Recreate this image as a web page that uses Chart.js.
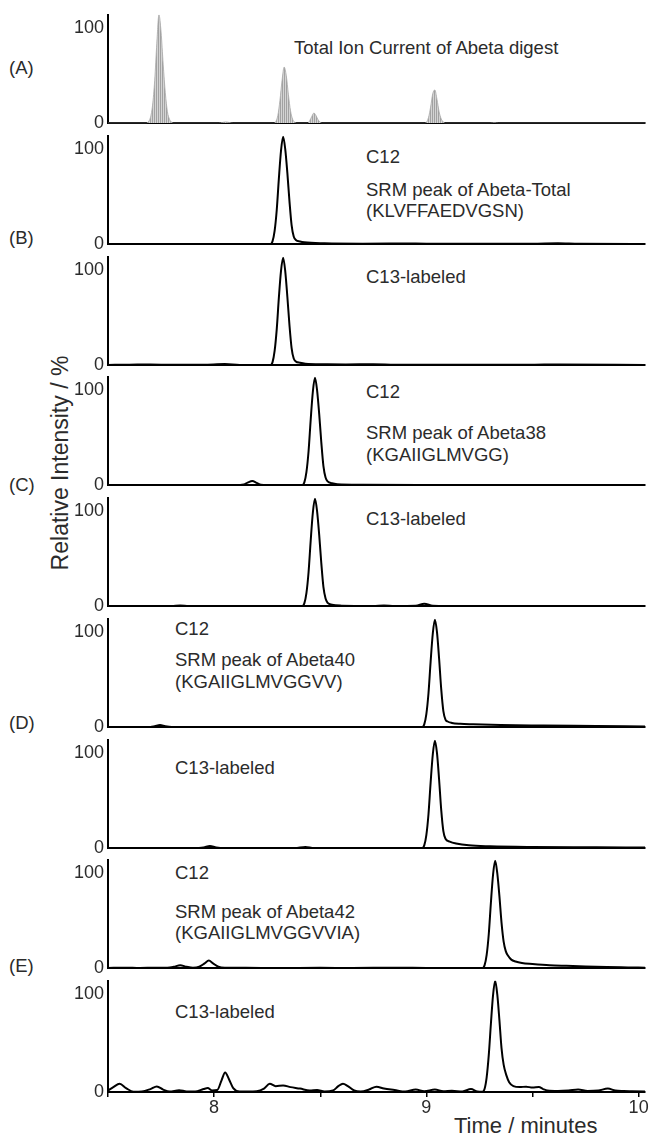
<!DOCTYPE html>
<html>
<head>
<meta charset="utf-8">
<script src="https://cdn.jsdelivr.net/npm/chart.js@4.4.1/dist/chart.umd.min.js"></script>
<style>
html,body{margin:0;padding:0;background:#fff;}
#wrap{position:relative;width:650px;height:1134px;overflow:hidden;font-family:"Liberation Sans",Arial,sans-serif;color:#2b2b2b;}
#wrap canvas{position:absolute;left:0;}
.t{position:absolute;white-space:nowrap;font-size:18.5px;line-height:1.15;transform:translateY(-50%);}
#ylab{position:absolute;white-space:nowrap;font-size:23px;line-height:1.15;left:60px;top:463px;transform:translate(-50%,-50%) rotate(-90deg);}
#xlab{position:absolute;white-space:nowrap;font-size:22px;line-height:1.15;left:454px;top:1126px;transform:translateY(-50%);}
</style>
</head>
<body>
<div id="wrap">
  <div id="ylab">Relative Intensity / %</div>
  <div id="xlab">Time / minutes</div>
</div>
<script>
// ---------------- DATA (time in minutes, relative intensity in %) ----------------
const X_TICKS = [7.5, 8, 8.5, 9, 9.5, 10];
const X_TICK_LABELS = ["", "8", "", "9", "", "10"];
const Y_TICKS = [0, 100];

const ticAbetaDigest = [[7.50,0],[7.68,0],[7.69,1.5],[7.70,6],[7.71,19],[7.72,45],[7.73,84],[7.74,114],[7.75,96],[7.76,62],[7.77,32],[7.78,12],[7.79,4],[7.80,1],[7.81,0],[8.02,0],[8.04,0.8],[8.055,1.3],[8.07,0.8],[8.09,0],[8.28,0],[8.29,1.5],[8.30,8],[8.31,24],[8.32,45],[8.33,59],[8.34,50],[8.35,30],[8.36,13],[8.37,4],[8.38,1],[8.39,0],[8.44,0],[8.45,2.5],[8.46,7],[8.47,10.7],[8.48,8],[8.49,3.5],[8.50,1],[8.51,0],[8.99,0],[9.00,1],[9.01,6],[9.02,17],[9.03,31],[9.04,35],[9.05,25],[9.06,12],[9.07,4.5],[9.08,1.2],[9.09,0],[9.30,0],[9.32,0.6],[9.34,0],[10.03,0]];

const abetaTotalC12 = [[7.50,0],[8.20,0],[8.265,0],[8.275,3],[8.285,14],[8.295,36],[8.305,69],[8.315,98],[8.325,113],[8.335,100],[8.345,75],[8.355,45],[8.365,20],[8.375,8],[8.385,4.5],[8.405,2.8],[8.425,2],[8.52,1],[8.70,0.6],[8.95,0.8],[9.05,0.4],[9.50,0.5],[9.62,0.9],[9.72,0.4],[10.03,0.3]];

const abetaTotalC13 = [[7.50,0.3],[7.60,0.5],[7.70,0.8],[7.80,0.4],[7.95,0.5],[8.05,1.2],[8.12,0.3],[8.20,0.2],[8.265,0],[8.275,3],[8.285,15],[8.295,38],[8.305,71],[8.315,99],[8.325,113],[8.335,99],[8.345,72],[8.355,42],[8.365,18],[8.375,7],[8.385,4],[8.405,2.5],[8.43,1.5],[8.52,1],[8.62,0.8],[8.75,1],[8.85,0.6],[9.00,0.5],[9.20,0.4],[9.50,0.5],[9.62,0.8],[10.03,0.3]];

const abeta38C12 = [[7.50,0],[8.10,0],[8.14,0.8],[8.16,3],[8.18,4.3],[8.20,2.5],[8.22,0.5],[8.25,0],[8.415,0],[8.425,3],[8.435,14],[8.445,36],[8.455,69],[8.465,98],[8.475,113],[8.485,100],[8.495,75],[8.505,45],[8.515,20],[8.525,8],[8.535,4],[8.555,2],[8.58,1],[8.70,0.5],[9.00,0.3],[10.03,0.2]];

const abeta38C13 = [[7.50,0],[7.80,0.2],[7.84,0.8],[7.88,0.2],[8.10,0.1],[8.415,0],[8.425,3],[8.435,14],[8.445,36],[8.455,69],[8.465,98],[8.475,113],[8.485,100],[8.495,75],[8.505,45],[8.515,20],[8.525,8],[8.535,3.5],[8.555,1.5],[8.60,0.6],[8.75,0.3],[8.80,0.8],[8.85,0.3],[8.95,0.5],[8.99,2.5],[9.03,0.5],[9.10,0.2],[10.03,0.1]];

const abeta40C12 = [[7.50,0],[7.70,0.2],[7.72,1],[7.745,2.3],[7.77,1],[7.80,0.2],[8.20,0],[8.98,0],[8.99,3],[9.00,14],[9.01,36],[9.02,69],[9.03,98],[9.04,113],[9.05,100],[9.06,72],[9.07,40],[9.08,17],[9.09,8],[9.10,6],[9.12,4.5],[9.16,3.5],[9.22,3],[9.35,2.2],[9.55,1.7],[9.80,1.2],[10.03,0.7]];

const abeta40C13 = [[7.50,0],[7.90,0.2],[7.95,0.8],[7.98,2.3],[8.01,0.8],[8.05,0.2],[8.38,0.2],[8.43,1.3],[8.47,0.2],[8.98,0],[8.99,3],[9.00,14],[9.01,36],[9.02,69],[9.03,98],[9.04,113],[9.05,100],[9.06,72],[9.07,40],[9.08,18],[9.09,10],[9.11,7],[9.14,5],[9.20,3],[9.30,2],[9.50,1.3],[9.80,1],[10.03,0.7]];

const abeta42C12 = [[7.50,0.3],[7.58,0.6],[7.65,0.2],[7.72,0.5],[7.78,0.6],[7.81,1.5],[7.84,3],[7.87,1.5],[7.90,0.5],[7.93,1.5],[7.955,5],[7.975,8],[7.995,5],[8.02,1.5],[8.05,0.5],[8.15,0.4],[8.30,0.2],[8.50,0.4],[8.65,0.2],[8.85,0.5],[9.00,0.3],[9.20,0.2],[9.264,0],[9.274,3],[9.284,14],[9.294,36],[9.304,69],[9.314,98],[9.324,113],[9.334,100],[9.344,76],[9.354,48],[9.364,28],[9.374,18],[9.385,13],[9.40,9],[9.42,7],[9.45,5.5],[9.50,4.5],[9.58,3.2],[9.66,2.5],[9.75,1.8],[9.85,1.2],[9.95,0.8],[10.03,0.5]];

const abeta42C13 = [[7.50,1.5],[7.525,5],[7.555,8.5],[7.585,4],[7.62,0.3],[7.66,0.5],[7.70,3],[7.73,5.7],[7.76,2.5],[7.79,0.5],[7.835,1.8],[7.87,0.6],[7.91,0.5],[7.95,3],[7.97,4],[7.99,1.5],[8.015,2],[8.035,12],[8.052,20],[8.07,13],[8.09,4],[8.12,0.5],[8.16,0.5],[8.20,0.8],[8.235,3.5],[8.262,8.5],[8.29,6],[8.325,6.7],[8.36,5],[8.405,3.5],[8.45,1.5],[8.485,2],[8.52,0.6],[8.56,1.5],[8.585,6],[8.607,8.5],[8.63,6],[8.66,1.5],[8.69,0.5],[8.73,2.5],[8.765,5.5],[8.80,3.5],[8.85,2],[8.90,0.5],[8.95,2.5],[8.99,0.8],[9.04,2.5],[9.08,0.8],[9.12,1.2],[9.17,0.5],[9.21,3],[9.24,0.6],[9.264,0.3],[9.274,3],[9.284,15],[9.294,38],[9.304,70],[9.314,99],[9.324,114],[9.334,100],[9.344,74],[9.354,45],[9.364,28],[9.377,17],[9.39,10],[9.41,6],[9.44,5],[9.47,5.5],[9.50,4.5],[9.53,5],[9.55,3],[9.57,1.5],[9.62,1],[9.67,1.5],[9.715,2.5],[9.76,1],[9.81,1.5],[9.855,3.5],[9.89,1.5],[9.93,1],[9.97,0.8],[10.03,0.5]];

const PANEL_SERIES = [ticAbetaDigest, abetaTotalC12, abetaTotalC13, abeta38C12, abeta38C13, abeta40C12, abeta40C13, abeta42C12, abeta42C13];

// ---------------- TEXT ----------------
const PANEL_LETTERS = [["(A)",68],["(B)",238],["(C)",485],["(D)",723],["(E)",966]];
const NOTES = [
  ["Total Ion Current of Abeta digest",294,48],
  ["C12",366,157],["SRM peak of Abeta-Total",366,190],["(KLVFFAEDVGSN)",366,211],
  ["C13-labeled",366,277],
  ["C12",366,392],["SRM peak of Abeta38",366,433],["(KGAIIGLMVGG)",366,455],
  ["C13-labeled",366,519],
  ["C12",175,629],["SRM peak of Abeta40",175,660],["(KGAIIGLMVGGVV)",175,682],
  ["C13-labeled",175,768],
  ["C12",175,873],["SRM peak of Abeta42",175,912],["(KGAIIGLMVGGVVIA)",175,933],
  ["C13-labeled",175,1012]
];

// ---------------- LAYOUT ----------------
const W = 650, X_MIN = 7.5, X_MAX = 10.03, Y_MAX = 114;
const PANEL_H = 114, PITCH = 120.75, FIRST_TOP = 12, LEFT_W = 108;
const TXT = '#2b2b2b';
const FONT = {family: "'Liberation Sans', Arial, sans-serif", size: 18};

const wrap = document.getElementById('wrap');
PANEL_LETTERS.forEach(([s,y]) => {
  const d = document.createElement('div'); d.className = 't'; d.textContent = s;
  d.style.left = '9px'; d.style.top = y + 'px'; wrap.appendChild(d);
});
NOTES.forEach(([s,x,y]) => {
  const d = document.createElement('div'); d.className = 't'; d.textContent = s;
  d.style.left = x + 'px'; d.style.top = y + 'px'; wrap.appendChild(d);
});

PANEL_SERIES.forEach((series, i) => {
  const last = i === PANEL_SERIES.length - 1;
  const isTic = i === 0;
  const padTop = 12, xH = last ? 26 : 0, padBottom = last ? 2 : 12;
  const plotTop = Math.round(FIRST_TOP + i * PITCH);
  const h = padTop + PANEL_H + xH + padBottom;
  const c = document.createElement('canvas');
  c.width = W; c.height = h;
  c.style.width = W + 'px'; c.style.height = h + 'px';
  c.style.top = (plotTop - padTop) + 'px';
  wrap.appendChild(c);

  let fillStyle = 'transparent';
  if (isTic) {
    const pc = document.createElement('canvas'); pc.width = 2; pc.height = 1;
    const p = pc.getContext('2d');
    p.fillStyle = '#d4d4d4'; p.fillRect(0,0,2,1);
    p.fillStyle = '#a2a2a2'; p.fillRect(0,0,1,1);
    fillStyle = c.getContext('2d').createPattern(pc, 'repeat');
  }

  new Chart(c, {
    type: 'line',
    data: { datasets: [{
      data: series.map(([x,y]) => ({x, y})),
      borderColor: isTic ? '#a8a8a8' : '#000',
      borderWidth: isTic ? 0.8 : 2,
      backgroundColor: fillStyle,
      fill: isTic ? 'origin' : false,
      pointRadius: 0,
      cubicInterpolationMode: 'monotone'
    }]},
    options: {
      responsive: false, animation: false, events: [],
      layout: { padding: { top: padTop, bottom: padBottom, left: 0, right: 5 } },
      plugins: { legend: { display: false }, tooltip: { enabled: false } },
      scales: {
        x: {
          type: 'linear', min: X_MIN, max: X_MAX, offset: false,
          afterBuildTicks: s => { s.ticks = X_TICKS.map(v => ({value: v})); },
          afterFit: s => { s.height = xH; },
          grid: { display: last, drawOnChartArea: false, tickLength: 5, color: '#000', lineWidth: 1.5 },
          border: { display: true, color: '#000', width: 2 },
          ticks: { display: last, autoSkip: false, maxRotation: 0, padding: 0, color: TXT, font: FONT,
                   callback: (v, idx) => X_TICK_LABELS[idx] }
        },
        y: {
          min: 0, max: Y_MAX,
          afterBuildTicks: s => { s.ticks = Y_TICKS.map(v => ({value: v})); },
          afterFit: s => { s.width = LEFT_W; },
          grid: { display: false, drawTicks: false, tickLength: 0 },
          border: { display: true, color: '#000', width: 2 },
          ticks: { autoSkip: false, padding: 4, color: TXT, font: FONT }
        }
      }
    }
  });
});
</script>
</body>
</html>
